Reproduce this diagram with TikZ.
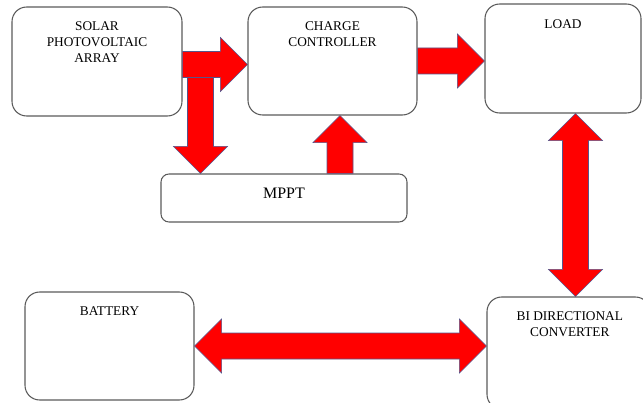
\documentclass[tikz,border=0pt]{standalone}
\usepackage{fontspec}
\setmainfont{Liberation Serif}
\usepackage{tikz}
\usetikzlibrary{calc}
\definecolor{boxgray}{RGB}{90,90,90}
\definecolor{arrowedge}{RGB}{85,85,140}
\tikzset{
  blockbox/.style = {draw=boxgray, line width=0.8pt, rounded corners=11pt,
    minimum width=126.75pt, minimum height=81pt, inner sep=0pt},% big boxes
  flatbox/.style = {draw=boxgray, line width=0.8pt, rounded corners=6pt,
    minimum width=184.5pt, minimum height=36pt, inner sep=0pt,
    font=\fontsize{12}{14}\selectfont, text depth=7.5pt},% mppt box
  boxlabel/.style = {anchor=north, yshift=-9pt, align=center, inner sep=2pt,
    font=\fontsize{10}{12}\selectfont},% text at top of a box
  bigarrow/.style = {fill=red, draw=arrowedge, line width=0.4pt, line join=miter},
}
% block arrow from #1 to #2
\newcommand{\blockarrow}[2]{%
  \coordinate (hb) at ($(#2)!20.25pt!(#1)$);
  \draw[bigarrow] ($(#1)!9.75pt!90:(#2)$) -- ($(hb)!9.75pt!90:(#2)$)
    -- ($(hb)!20.25pt!90:(#2)$) -- (#2) -- ($(hb)!20.25pt!-90:(#2)$)
    -- ($(hb)!9.75pt!-90:(#2)$) -- ($(#1)!9.75pt!-90:(#2)$) -- cycle;}
% block arrow with a head at both ends
\newcommand{\dblockarrow}[2]{%
  \coordinate (ha) at ($(#1)!20.25pt!(#2)$);
  \coordinate (hb) at ($(#2)!20.25pt!(#1)$);
  \draw[bigarrow] (#1) -- ($(ha)!20.25pt!90:(#2)$) -- ($(ha)!9.75pt!90:(#2)$)
    -- ($(hb)!9.75pt!-90:(#1)$) -- ($(hb)!20.25pt!-90:(#1)$) -- (#2)
    -- ($(hb)!20.25pt!90:(#1)$) -- ($(hb)!9.75pt!90:(#1)$)
    -- ($(ha)!9.75pt!-90:(#2)$) -- ($(ha)!20.25pt!-90:(#2)$) -- cycle;}

\begin{document}
\begin{tikzpicture}[x=0.75pt,y=-0.75pt]
  \useasboundingbox (0,0) rectangle (643,403);
  \clip (0,0) rectangle (643,403);

  \node[blockbox, minimum width=127.5pt, minimum height=81.75pt,
    label={[boxlabel]north:{SOLAR\\PHOTOVOLTAIC\\ARRAY}}] (solar) at (97,61.5) {};
  \node[blockbox, label={[boxlabel]north:{CHARGE\\CONTROLLER}}] (cc) at (332.5,61) {};
  \node[blockbox, minimum width=117pt, minimum height=81.75pt,
    label={[boxlabel, yshift=-1pt]north:{LOAD}}] (load) at (563,58.5) {};
  \node[flatbox] (mppt) at (284,198) {MPPT};
  \node[blockbox, label={[boxlabel]north:{BATTERY}}] (battery) at (109.5,346) {};
  \node[blockbox, minimum width=122.25pt, minimum height=84pt,
    label={[boxlabel, xshift=1pt]north:{BI DIRECTIONAL\\CONVERTER}}] (bdc) at (568.5,353) {};

  \coordinate (pvout) at ($(solar.east)+(0,3)$);
  \coordinate (pvsplit) at (200.5,68);
  \coordinate (ccin) at ($(cc.south)+(7.5,0)$);
  \coordinate (loadin) at ($(load.south)+(12.5,0)$);

  % power path
  \blockarrow{pvsplit}{pvsplit |- mppt.north}
  \blockarrow{pvout}{pvout -| cc.west}
  \blockarrow{cc.east}{cc.east -| load.west}
  \blockarrow{ccin |- mppt.north}{ccin}
  % both ways
  \dblockarrow{loadin}{loadin |- bdc.north}
  \dblockarrow{battery.east}{battery.east -| bdc.west}
\end{tikzpicture}
\end{document}
